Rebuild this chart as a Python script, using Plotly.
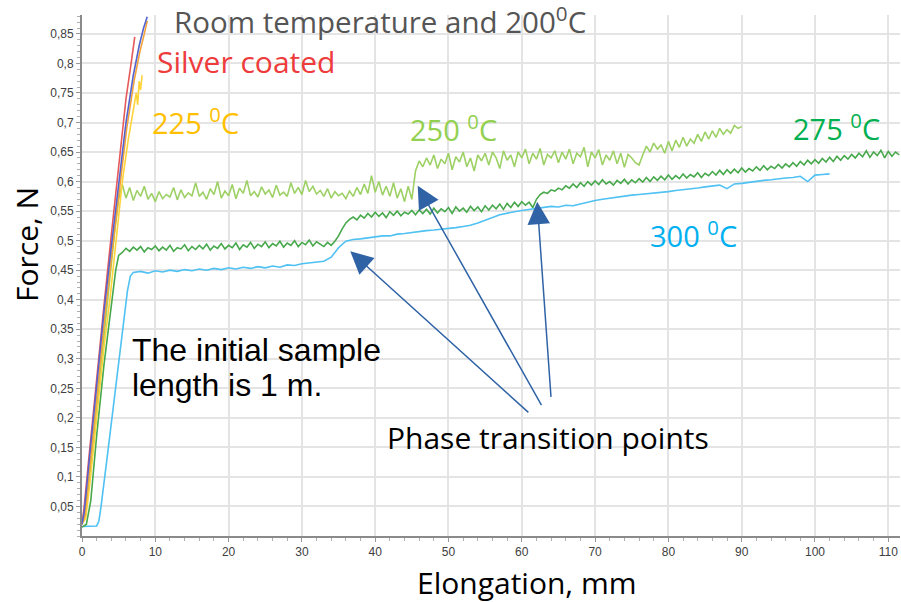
import numpy as np
import plotly.graph_objects as go

# ---------------- data ----------------
# steep curves
room_x = [0.0, 0.3, 1.0, 2.0, 3.0, 4.0, 5.0, 6.0, 7.0, 7.8, 8.4, 8.9]
room_y = [0.02, 0.04, 0.13, 0.26, 0.38, 0.49, 0.60, 0.70, 0.78, 0.83, 0.86, 0.879]

t200_x = [0.0, 0.4, 1.1, 2.1, 3.1, 4.1, 5.1, 6.1, 7.1, 7.9, 8.5, 8.9]
t200_y = [0.02, 0.035, 0.12, 0.25, 0.37, 0.48, 0.59, 0.69, 0.77, 0.82, 0.85, 0.872]

silver_x = [0.0, 0.3, 1.0, 2.0, 3.0, 4.0, 5.0, 6.0, 6.7, 7.2]
silver_y = [0.02, 0.05, 0.14, 0.27, 0.39, 0.51, 0.63, 0.74, 0.80, 0.845]

t225_x = [0.0, 0.5, 1.0, 2.0, 3.0, 3.8, 4.6, 5.5, 6.3, 7.0, 7.4, 7.6, 7.8, 8.0, 8.2]
t225_y = [0.02, 0.03, 0.08, 0.20, 0.32, 0.40, 0.49, 0.60, 0.67, 0.72, 0.75, 0.73, 0.77, 0.755, 0.78]

# 250 C
t250_rise_x = [0.0, 0.5, 1.5, 2.5, 3.5, 4.5, 5.0]
t250_rise_y = [0.02, 0.04, 0.15, 0.28, 0.40, 0.52, 0.57]
t250_start, t250_step = 5.5, 0.5
t250_y = [
    0.595, 0.572, 0.590, 0.568, 0.585, 0.575, 0.592, 0.570, 0.580, 0.566, 0.583, 0.571, 0.578, 0.574, 0.590, 0.569, 0.586, 0.573, 0.581, 0.576,
    0.598, 0.575, 0.582, 0.570, 0.588, 0.578, 0.600, 0.572, 0.584, 0.576, 0.595, 0.571, 0.589, 0.580, 0.602, 0.576, 0.583, 0.574, 0.591, 0.579,
    0.586, 0.573, 0.594, 0.577, 0.582, 0.575, 0.598, 0.580, 0.590, 0.578, 0.602, 0.583, 0.592, 0.579, 0.585, 0.575, 0.588, 0.572, 0.583, 0.576,
    0.580, 0.571, 0.584, 0.575, 0.590, 0.578, 0.596, 0.580, 0.610, 0.582, 0.600, 0.577, 0.592, 0.575, 0.598, 0.572, 0.588, 0.566, 0.592, 0.570,
    0.618, 0.635, 0.625, 0.640, 0.628, 0.645, 0.622, 0.638, 0.630, 0.648, 0.620, 0.642, 0.633, 0.650, 0.625, 0.640, 0.618, 0.645, 0.635, 0.648,
    0.628, 0.650, 0.640, 0.622, 0.652, 0.636, 0.645, 0.625, 0.650, 0.640, 0.655, 0.630, 0.648, 0.638, 0.656, 0.628, 0.646, 0.640, 0.652, 0.632,
    0.650, 0.638, 0.655, 0.630, 0.648, 0.642, 0.658, 0.625, 0.650, 0.640, 0.654, 0.628, 0.645, 0.636, 0.652, 0.630, 0.648, 0.624, 0.646, 0.640,
    0.632, 0.628, 0.645, 0.660, 0.650, 0.665, 0.655, 0.662, 0.648, 0.668, 0.652, 0.670, 0.658, 0.675, 0.660, 0.672, 0.665, 0.680, 0.668, 0.684,
    0.672, 0.686, 0.675, 0.690, 0.680, 0.688, 0.682, 0.695, 0.690, 0.693,
]

# 275 C
t275_rise_x = [0.0, 0.6, 1.2, 2.0, 3.0, 4.0, 4.6, 5.0]
t275_rise_y = [0.015, 0.02, 0.06, 0.17, 0.29, 0.39, 0.45, 0.475]
t275_start, t275_step = 5.5, 0.5
t275_y = [
    0.480, 0.487, 0.482, 0.489, 0.484, 0.490, 0.481, 0.488, 0.485, 0.491, 0.483, 0.489, 0.484, 0.492, 0.482, 0.488, 0.486, 0.493, 0.483, 0.490,
    0.485, 0.492, 0.486, 0.494, 0.484, 0.491, 0.487, 0.495, 0.486, 0.492, 0.488, 0.496, 0.485, 0.493, 0.489, 0.497, 0.487, 0.494, 0.490, 0.498,
    0.488, 0.495, 0.491, 0.499, 0.489, 0.496, 0.492, 0.500, 0.490, 0.497, 0.493, 0.501, 0.491, 0.498, 0.494, 0.490, 0.497, 0.492, 0.499, 0.508,
    0.520, 0.530, 0.536, 0.540, 0.535, 0.543, 0.538, 0.546, 0.540, 0.548, 0.541, 0.547, 0.539, 0.549, 0.543, 0.550, 0.542, 0.548, 0.545, 0.551,
    0.544, 0.552, 0.546, 0.553, 0.545, 0.555, 0.547, 0.554, 0.549, 0.556, 0.546, 0.557, 0.550, 0.555, 0.548, 0.558, 0.551, 0.557, 0.549, 0.559,
    0.552, 0.560, 0.554, 0.562, 0.553, 0.563, 0.556, 0.565, 0.558, 0.566, 0.560, 0.565, 0.556, 0.570, 0.578, 0.582, 0.580, 0.586, 0.584, 0.589,
    0.586, 0.593, 0.589, 0.596, 0.590, 0.598, 0.592, 0.600, 0.594, 0.601, 0.595, 0.603, 0.596, 0.600, 0.594, 0.602, 0.597, 0.604, 0.596, 0.603,
    0.598, 0.605, 0.599, 0.607, 0.600, 0.608, 0.602, 0.609, 0.603, 0.611, 0.604, 0.610, 0.605, 0.613, 0.606, 0.612, 0.608, 0.615, 0.607, 0.614,
    0.610, 0.617, 0.611, 0.619, 0.612, 0.620, 0.614, 0.621, 0.615, 0.623, 0.616, 0.622, 0.618, 0.625, 0.619, 0.627, 0.620, 0.626, 0.622, 0.629,
    0.623, 0.630, 0.625, 0.632, 0.626, 0.634, 0.628, 0.636, 0.630, 0.637, 0.631, 0.639, 0.633, 0.641, 0.634, 0.643, 0.636, 0.644, 0.638, 0.646,
    0.640, 0.648, 0.642, 0.652, 0.641, 0.650, 0.644, 0.653, 0.640, 0.651, 0.643, 0.650, 0.645,
]

# 300 C
t300_rise_x = [0.0, 1.0, 2.0, 2.3, 2.6, 3.5, 4.5, 5.5, 6.2, 6.6]
t300_rise_y = [0.016, 0.016, 0.017, 0.025, 0.05, 0.14, 0.24, 0.34, 0.415, 0.44]
t300_start, t300_step = 7.0, 1.0
t300_y = [
    0.446, 0.448, 0.445, 0.449, 0.447, 0.450, 0.448, 0.451, 0.449, 0.452,
    0.450, 0.453, 0.451, 0.454, 0.452, 0.455, 0.453, 0.456, 0.454, 0.457,
    0.455, 0.459, 0.458, 0.461, 0.462, 0.463, 0.465, 0.472, 0.488, 0.499,
    0.502, 0.503, 0.505, 0.506, 0.508, 0.508, 0.511, 0.512, 0.514, 0.515,
    0.517, 0.518, 0.519, 0.521, 0.522, 0.524, 0.526, 0.530, 0.534, 0.539,
    0.544, 0.547, 0.549, 0.551, 0.553, 0.554, 0.556, 0.558, 0.557, 0.560,
    0.559, 0.562, 0.566, 0.568, 0.570, 0.572, 0.574, 0.575, 0.577, 0.578,
    0.579, 0.580, 0.581, 0.583, 0.585, 0.586, 0.588, 0.589, 0.591, 0.592,
    0.594, 0.588, 0.596, 0.597, 0.599, 0.600, 0.602, 0.603, 0.605, 0.606,
    0.607, 0.609, 0.600, 0.611, 0.612, 0.613,
]

x_ticks = [0, 10, 20, 30, 40, 50, 60, 70, 80, 90, 100, 110]
y_tickvals = [0.05, 0.1, 0.15, 0.2, 0.25, 0.3, 0.35, 0.4, 0.45, 0.5, 0.55, 0.6, 0.65, 0.7, 0.75, 0.8, 0.85]
y_ticktext = ["0,05", "0,1", "0,15", "0,2", "0,25", "0,3", "0,35", "0,4", "0,45", "0,5",
              "0,55", "0,6", "0,65", "0,7", "0,75", "0,8", "0,85"]


def full_curve(rx, ry, start, step, ys):
    xs = start + step * np.arange(len(ys))
    return list(rx) + list(xs), list(ry) + list(ys)


x250, y250 = full_curve(t250_rise_x, t250_rise_y, t250_start, t250_step, t250_y)
x275, y275 = full_curve(t275_rise_x, t275_rise_y, t275_start, t275_step, t275_y)
x300, y300 = full_curve(t300_rise_x, t300_rise_y, t300_start, t300_step, t300_y)

fig = go.Figure()
lw = 1.6
fig.add_trace(go.Scatter(x=x300, y=y300, mode="lines", line=dict(color="#4fc1f2", width=lw)))
fig.add_trace(go.Scatter(x=x275, y=y275, mode="lines", line=dict(color="#47a84c", width=lw)))
fig.add_trace(go.Scatter(x=x250, y=y250, mode="lines", line=dict(color="#9dd065", width=lw)))
fig.add_trace(go.Scatter(x=t225_x, y=t225_y, mode="lines", line=dict(color="#ffd43a", width=lw)))
fig.add_trace(go.Scatter(x=t200_x, y=t200_y, mode="lines", line=dict(color="#f2a33a", width=lw)))
fig.add_trace(go.Scatter(x=silver_x, y=silver_y, mode="lines", line=dict(color="#e65a5a", width=lw)))
fig.add_trace(go.Scatter(x=room_x, y=room_y, mode="lines", line=dict(color="#5563cf", width=lw)))

# ---------------- layout (page body margin removed by post_script) ----------------
W, H = 901, 602
plot_left, plot_right, plot_top, plot_bottom = 82, 900, 15, 536
L, T, R, B = plot_left, plot_top, W - plot_right, H - plot_bottom
pw, ph = W - L - R, H - T - B


def px(xp):
    return (xp - L) / pw


def py(yp):
    return (H - B - yp) / ph


axis_common = dict(
    showgrid=True, gridcolor="#e4e4e4", gridwidth=1.5,
    showline=True, linecolor="#8a8a8a", linewidth=2,
    ticks="outside", ticklen=4, tickcolor="#9a9a9a",
    tickfont=dict(family="Liberation Sans, Arial", size=12, color="#404040"),
    zeroline=False,
)

fig.update_layout(
    width=W, height=H,
    margin=dict(l=L, r=R, t=T, b=B),
    plot_bgcolor="white", paper_bgcolor="white",
    showlegend=False,
    xaxis=dict(range=[0, 111.6], tickvals=x_ticks,
               minor=dict(ticks="outside", dtick=2, ticklen=3, tickcolor="#b0b0b0", showgrid=False),
               **axis_common),
    yaxis=dict(range=[0, 0.882], tickvals=y_tickvals, ticktext=y_ticktext,
               minor=dict(ticks="outside", dtick=0.01, ticklen=3, tickcolor="#b0b0b0", showgrid=False),
               **axis_common),
)

big = "Open Sans, Noto Sans, sans-serif"
texts = [
    ("Room temperature and 200<sup>0</sup>C", 172, 21, "#555555", big, 29.5),
    ("Silver coated", 155, 62, "#ee3b3b", big, 30),
    ("225 <sup>0</sup>C", 150, 121, "#ffc000", big, 29),
    ("250 <sup>0</sup>C", 408, 128, "#92d050", big, 29),
    ("275 <sup>0</sup>C", 791, 127, "#00b050", big, 29),
    ("300 <sup>0</sup>C", 648, 234, "#00b0f0", big, 29),
    ("The initial sample", 130, 350, "#000000", "Liberation Sans, Arial", 32),
    ("length is 1 m.", 130, 385, "#000000", "Liberation Sans, Arial", 32),
    ("Phase transition points", 385, 437, "#000000", big, 30),
]
for txt, xp, yp, col, fam, sz in texts:
    fig.add_annotation(text=txt, x=px(xp), y=py(yp), xref="paper", yref="paper",
                       xanchor="left", yanchor="middle", showarrow=False, align="left",
                       font=dict(family=fam, size=sz, color=col))

# axis titles
fig.add_annotation(text="Elongation, mm", x=px(526), y=py(582), xref="paper", yref="paper",
                   xanchor="center", yanchor="middle", showarrow=False,
                   font=dict(family=big, size=30, color="#000000"))
fig.add_annotation(text="Force, N", x=px(26), y=py(245), xref="paper", yref="paper",
                   xanchor="center", yanchor="middle", showarrow=False, textangle=-90,
                   font=dict(family=big, size=30, color="#000000"))

# arrows (tip, tail) in data units
arrows = [((36.6, 0.482), (61.1, 0.207)),
          ((45.8, 0.593), (62.8, 0.219)),
          ((62.1, 0.566), (64.0, 0.233))]
for (tx, ty), (sx, sy) in arrows:
    fig.add_annotation(x=tx, y=ty, ax=sx, ay=sy, xref="x", yref="y", axref="x", ayref="y",
                       text="", showarrow=True, arrowhead=2, arrowsize=3, arrowwidth=1.5,
                       arrowcolor="#2f63a6")

fig.write_html("out.html",
               config={"displayModeBar": False},
               post_script="document.body.style.margin='0px';document.body.style.overflow='hidden';")
